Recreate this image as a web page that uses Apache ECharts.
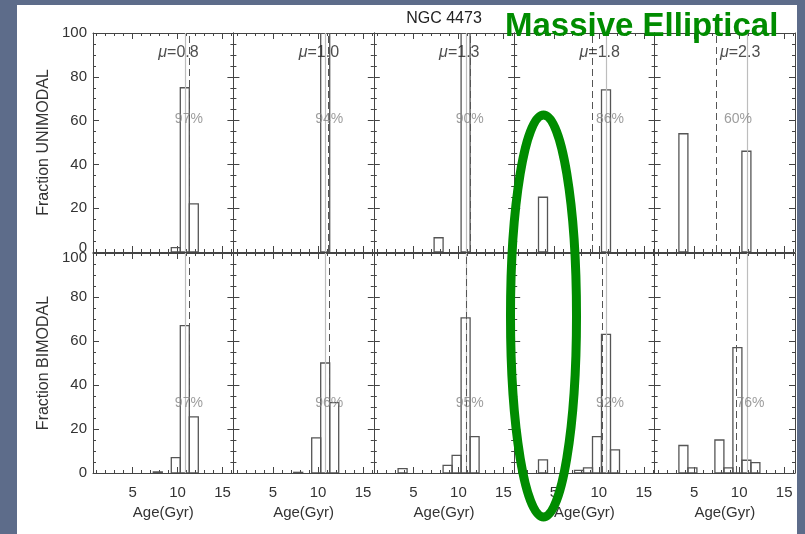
<!DOCTYPE html>
<html><head><meta charset="utf-8">
<script src="https://cdn.jsdelivr.net/npm/echarts@6/dist/echarts.min.js"></script>
<style>
html,body{margin:0;padding:0;overflow:hidden;}
#bg{position:absolute;left:0;top:0;width:805px;height:534px;background:#5d6c8a;}
#paper{position:absolute;left:17px;top:5px;width:780px;height:529px;background:#fff;}
#chart{position:absolute;left:0;top:0;width:805px;height:534px;}
</style></head>
<body>
<div id="bg"></div><div id="paper"></div><div id="chart"></div>
<script>
// ---------------- data ----------------
const muValues = ['0.8', '1.0', '1.3', '1.8', '2.3'];
const ageBins = [3.8, 4.8, 5.8, 6.8, 7.8, 8.8, 9.8, 10.8, 11.8];
// Fraction (%) per age bin, UNIMODAL row
const uniMu08 = [0, 0, 0, 0, 0, 0, 2, 75, 22];
const uniMu10 = [0, 0, 0, 0, 0, 0, 0, 100, 0];
const uniMu13 = [0, 0, 0, 0, 6.5, 0, 0, 100, 0];
const uniMu18 = [25, 0, 0, 0, 0, 0, 0, 74, 0];
const uniMu23 = [54, 0, 0, 0, 0, 0, 0, 46, 0];
// Fraction (%) per age bin, BIMODAL row
const biMu08 = [0, 0, 0, 0, 0.5, 0, 7, 67, 25.5];
const biMu10 = [0, 0, 0, 0, 0.3, 0, 16, 50, 32];
const biMu13 = [2, 0, 0, 0, 0, 3.5, 8, 70.5, 16.5];
const biMu18 = [6, 0, 0, 0, 1.2, 2.3, 16.5, 63, 10.5];
const biMu23 = [12.5, 2.3, 0, 0, 15, 2.3, 57, 5.8, 4.7];
const uniPercent = [97, 94, 90, 86, 60];
const biPercent = [97, 96, 95, 92, 76];
const trueAge = 10.85;                               // solid reference line
const uniMeanAge = [11.3, 11.1, 11.28, 9.24, 7.48];  // dashed line
const biMeanAge = [11.3, 11.2, 10.9, 10.35, 9.68];
const xTickValues = [5, 10, 15];
const xMinorTickValues = [1, 2, 3, 4, 6, 7, 8, 9, 11, 12, 13, 14, 16];
const yMinorTickValues = [5, 10, 15, 25, 30, 35, 45, 50, 55, 65, 70, 75, 85, 90, 95];
const rowNames = ['Fraction UNIMODAL', 'Fraction BIMODAL'];
const titleText = 'NGC 4473';
const noteText = 'Massive Elliptical';

// ---------------- layout ----------------
const uniRows = [uniMu08, uniMu10, uniMu13, uniMu18, uniMu23];
const biRows = [biMu08, biMu10, biMu13, biMu18, biMu23];
const panelLeft0 = 93, panelW = 140.4;
const rowTop = [33, 253], rowH = [219, 220];
const X_MIN = 0.6, X_MAX = 16.2;
const FONT = '"Liberation Sans", Arial, sans-serif';
const AXC = '#444', TXC = '#333';

const grids = [], xAxes = [], yAxes = [], series = [];
let g = 0;
for (let r = 0; r < 2; r++) {
  for (let c = 0; c < 5; c++) {
    grids.push({left: panelLeft0 + c * panelW, top: rowTop[r], width: panelW, height: rowH[r], containLabel: false});
    const lineOn = {show: true, onZero: false, lineStyle: {color: AXC, width: 1}};
    const lineOff = {show: false, onZero: false};
    const major = {show: true, inside: true, length: 6, lineStyle: {color: AXC, width: 1}};
    const minor = {show: true, inside: true, length: 3, lineStyle: {color: AXC, width: 1}};
    const xBase = {gridIndex: g, type: 'value', min: X_MIN, max: X_MAX, splitNumber: 3,
                   splitLine: {show: false}, minorTick: {show: false}};
    const yBase = {gridIndex: g, type: 'value', min: 0, max: 100, interval: 20,
                   splitLine: {show: false}, minorTick: {show: false}};
    // x: bottom major (with labels), top major, bottom minor, top minor
    xAxes.push(Object.assign({}, xBase, {
      position: 'bottom', axisLine: lineOn,
      axisTick: Object.assign({customValues: xTickValues}, major),
      axisLabel: {show: r === 1, customValues: xTickValues, margin: 12, fontSize: 15, color: TXC, fontFamily: FONT},
      name: r === 1 ? 'Age(Gyr)' : '', nameLocation: 'middle', nameGap: 32,
      nameTextStyle: {fontSize: 15, color: TXC, fontFamily: FONT}
    }));
    xAxes.push(Object.assign({}, xBase, {
      position: 'top', axisLine: lineOn,
      axisTick: Object.assign({customValues: xTickValues}, major), axisLabel: {show: false}
    }));
    xAxes.push(Object.assign({}, xBase, {
      position: 'bottom', axisLine: lineOff,
      axisTick: Object.assign({customValues: xMinorTickValues}, minor), axisLabel: {show: false}
    }));
    xAxes.push(Object.assign({}, xBase, {
      position: 'top', axisLine: lineOff,
      axisTick: Object.assign({customValues: xMinorTickValues}, minor), axisLabel: {show: false}
    }));
    // y: left major (with labels), right major, left minor, right minor
    yAxes.push(Object.assign({}, yBase, {
      position: 'left', axisLine: lineOn, axisTick: major,
      axisLabel: {show: c === 0, margin: 6, fontSize: 15, color: TXC, fontFamily: FONT,
        formatter: function (v) {
          if (r === 0 && v === 0) return '{up|0}';
          if (r === 1 && v === 100) return '{dn|100}';
          return String(v);
        },
        rich: {
          up: {fontSize: 15, color: TXC, fontFamily: FONT, padding: [0, 0, 9, 0]},
          dn: {fontSize: 15, color: TXC, fontFamily: FONT, padding: [9, 0, 0, 0]}
        }},
      name: c === 0 ? rowNames[r] : '', nameLocation: 'middle', nameGap: 41, nameRotate: 90,
      nameTextStyle: {fontSize: 16, color: TXC, fontFamily: FONT}
    }));
    yAxes.push(Object.assign({}, yBase, {
      position: 'right', axisLine: lineOn, axisTick: major, axisLabel: {show: false}
    }));
    yAxes.push(Object.assign({}, yBase, {
      position: 'left', axisLine: lineOff,
      axisTick: Object.assign({customValues: yMinorTickValues}, minor), axisLabel: {show: false}
    }));
    yAxes.push(Object.assign({}, yBase, {
      position: 'right', axisLine: lineOff,
      axisTick: Object.assign({customValues: yMinorTickValues}, minor), axisLabel: {show: false}
    }));

    const vals = r === 0 ? uniRows[c] : biRows[c];
    const histData = ageBins.map((a, i) => [a, vals[i]]).filter(d => d[1] > 0);
    series.push({
      type: 'custom', xAxisIndex: 4 * g, yAxisIndex: 4 * g, clip: true, silent: true, z: 3,
      data: histData, encode: {x: 0, y: 1},
      renderItem: function (params, api) {
        const x = api.value(0), v = api.value(1);
        const p0 = api.coord([x - 0.5, 0]);
        const p1 = api.coord([x + 0.5, v]);
        return {type: 'rect', shape: {x: p0[0], y: p1[1], width: p1[0] - p0[0], height: p0[1] - p1[1]},
                style: {fill: 'none', stroke: '#555', lineWidth: 1.3}};
      }
    });

    const pct = r === 0 ? uniPercent[c] : biPercent[c];
    const meanAge = r === 0 ? uniMeanAge[c] : biMeanAge[c];
    const pctPos = r === 0 ? [c === 4 ? 9.87 : 11.25, 60.7] : [11.25, 31.6];
    const labelData = [{value: pctPos, label: {formatter: pct + '%', fontSize: 14, color: '#858585', fontFamily: FONT}}];
    if (r === 0) {
      labelData.push({value: [10.1, 90.9], label: {formatter: '{m|μ}=' + muValues[c], fontSize: 16, color: '#222', fontFamily: FONT,
        rich: {m: {fontSize: 16, fontStyle: 'italic', color: '#222', fontFamily: FONT}}}});
    }
    series.push({
      type: 'scatter', xAxisIndex: 4 * g, yAxisIndex: 4 * g, silent: true, z: 5,
      symbolSize: 1, itemStyle: {color: 'transparent'},
      label: {show: true, position: 'inside'},
      data: labelData,
      markLine: {
        silent: true, symbol: 'none', animation: false, label: {show: false},
        data: [
          {xAxis: trueAge, lineStyle: {color: '#bdbdbd', type: 'solid', width: 1.2}},
          {xAxis: meanAge, lineStyle: {color: '#555', type: [7, 4], width: 1}}
        ]
      }
    });
    g++;
  }
}

const chart = echarts.init(document.getElementById('chart'), null, {renderer: 'canvas'});
chart.setOption({
  animation: false,
  backgroundColor: 'transparent',
  grid: grids, xAxis: xAxes, yAxis: yAxes, series: series,
  graphic: [
    {type: 'text', x: 444, y: 19, z: 50,
     style: {text: titleText, font: '16px ' + FONT, fill: '#222', align: 'center', verticalAlign: 'middle'}},
    {type: 'ellipse', z: 100, shape: {cx: 543.5, cy: 316, rx: 33, ry: 201},
     style: {fill: 'none', stroke: '#008c00', lineWidth: 9}},
    {type: 'text', x: 505, y: 26.5, z: 100,
     style: {text: noteText, font: 'bold 33px ' + FONT, fill: '#008c00', align: 'left', verticalAlign: 'middle'}}
  ]
});
</script>
</body></html>
